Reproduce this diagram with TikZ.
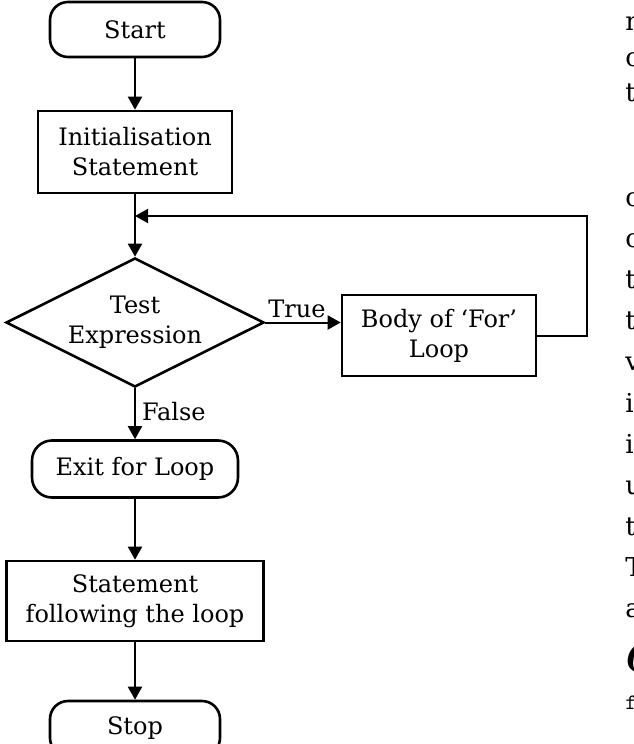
\documentclass[tikz,border=0pt]{standalone}
\usepackage{fontspec}
\setmainfont{DejaVu Serif}
\usetikzlibrary{positioning, shapes, arrows.meta}

\begin{document}
\begin{tikzpicture}[x=0.5pt, y=-0.5pt, every node/.style={font=\fontsize{12}{15}\selectfont, align=center}]
  % Styles
  \tikzset{
    terminal/.style={rectangle, rounded corners=9pt, draw=black, line width=1.3pt, minimum width=85pt, minimum height=27.5pt},
    process/.style={rectangle, draw=black, line width=1.3pt, inner sep=0pt},
    decision/.style={diamond, aspect=2, draw=black, line width=1.3pt, inner sep=0pt, minimum width=129pt, minimum height=64.5pt},
    flow/.style={-{Triangle[length=6.5pt, width=7pt]}, line width=1pt},
    pagetext/.style={anchor=base west, inner sep=0pt, font=\fontsize{13}{15}\selectfont}
  }
  \useasboundingbox (0,0) rectangle (633,744);

  % Main column
  \node[terminal] (start) at (135,29.5) {Start};
  \node[process, minimum width=97pt, minimum height=41pt] (init) at (135,152) {Initialisation\\Statement};
  \node[decision] (test) at (135,322.5) {Test\\Expression};
  \node[process, minimum width=97pt, minimum height=40.5pt] (body) at (439,335.5) {Body of ‘For’\\Loop};
  \node[terminal, rounded corners=10pt, minimum width=103pt, minimum height=28.5pt] (exit) at (135,469) {Exit for Loop};
  \node[process, minimum width=128.5pt, minimum height=40pt] (after) at (135,601) {Statement\\following the loop};
  \node[terminal] (stop) at (135,728.5) {Stop};
  \coordinate (back) at (587,216);

  % Flows
  \draw[flow] (start) -- (init);
  \draw[flow] (init) -- (test);
  \draw[flow] (test.east) -- (test.east -| body.west) node[pos=0.42, above, inner sep=2pt] {True};
  \draw[flow] (test) -- (exit) node[pos=0.45, right, inner sep=3pt] {False};
  \draw[flow] (exit) -- (after);
  \draw[flow] (after) -- (stop);

  % Loop back
  \draw[flow] (body.east) -| (back) -- (back -| test.north);

  % Page text at the right edge
  \foreach \ch/\yy [count=\i] in {n/30, c/66, t/101, c/206, c/247, t/288, t/329, v/370, i/412, i/453, u/494, t/535, T/576, a/617}
    \node[pagetext] (txt\i) at (625,\yy) {\ch};
  \node[pagetext, font=\bfseries\itshape\fontsize{16}{18}\selectfont] (txtsec) at (625,667) {(};
  \node[pagetext, font=\ttfamily\fontsize{11}{13}\selectfont] (txtcode) at (625,709) {f};

\end{tikzpicture}
\end{document}
